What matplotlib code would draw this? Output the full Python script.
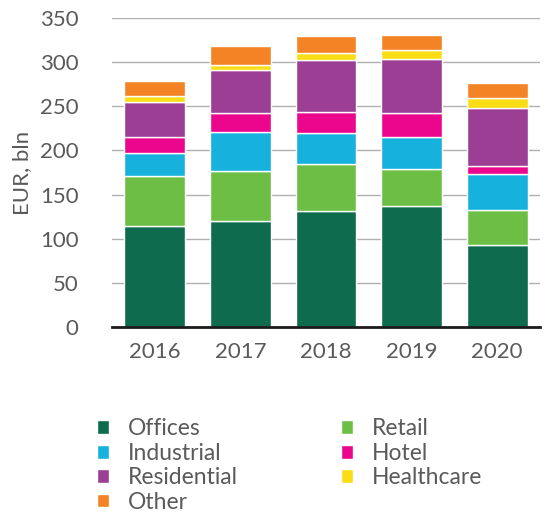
import matplotlib
matplotlib.use("Agg")
import matplotlib.pyplot as plt
import numpy as np

years = ["2016", "2017", "2018", "2019", "2020"]
offices = [114, 120, 131, 137, 93]
retail = [57, 56.5, 54, 41.5, 39.5]
industrial = [26, 44, 35, 36.5, 40.5]
hotel = [18, 22.5, 24, 27, 9]
residential = [40, 48.5, 58.5, 62, 66]
healthcare = [6.5, 5.5, 8.5, 10, 11.5]
other = [17.5, 21, 19, 16.5, 16.5]

names = ["Offices", "Retail", "Industrial", "Hotel", "Residential", "Healthcare", "Other"]
colors = ["#0e6b4e", "#6dbe45", "#17b1dd", "#ec068d", "#9c3e94", "#fadd14", "#f38325"]
series = [offices, retail, industrial, hotel, residential, healthcare, other]

plt.rcParams['font.family'] = ['Lato', 'DejaVu Sans']
grey = "#5a5a5a"

fig = plt.figure(figsize=(5.46, 5.18), dpi=100)
ax = fig.add_axes([0.205, 0.369, 0.784, 0.596])

x = np.arange(len(years))
bottom = np.zeros(len(years))
bars = []
for vals, name, c in zip(series, names, colors):
    b = ax.bar(x, vals, 0.71, bottom=bottom, color=c, edgecolor="white", linewidth=1, label=name, zorder=3)
    bars.append(b)
    bottom += np.array(vals)

ax.set_ylim(0, 350)
ax.set_xlim(-0.5, 4.5)
ax.set_yticks(range(0, 351, 50))
ax.set_xticks(x)
ax.set_xticklabels(years)
ax.tick_params(axis="both", length=0, labelsize=16, colors=grey)
ax.tick_params(axis="y", pad=24)
ax.tick_params(axis="x", pad=11)
ax.grid(axis="y", color="#b0b0b0", linewidth=1, zorder=0)
for s in ["top", "right", "left"]:
    ax.spines[s].set_visible(False)
ax.spines["bottom"].set_color("#1a1a1a")
ax.spines["bottom"].set_linewidth(2)
ax.spines["bottom"].set_zorder(4)
ax.set_ylabel("EUR, bln", fontsize=16, color=grey, labelpad=6)

order = [0, 2, 4, 6, 1, 3, 5]
fig.legend([bars[i] for i in order], [names[i] for i in order], ncol=2,
           loc="upper left", bbox_to_anchor=(0.16, 0.21), frameon=False,
           fontsize=16.5, labelcolor=grey, handlelength=0.55, handleheight=0.55,
           handletextpad=0.8, columnspacing=4.5, labelspacing=0.15,
           borderaxespad=0)

fig.savefig("out.png", dpi=100)
